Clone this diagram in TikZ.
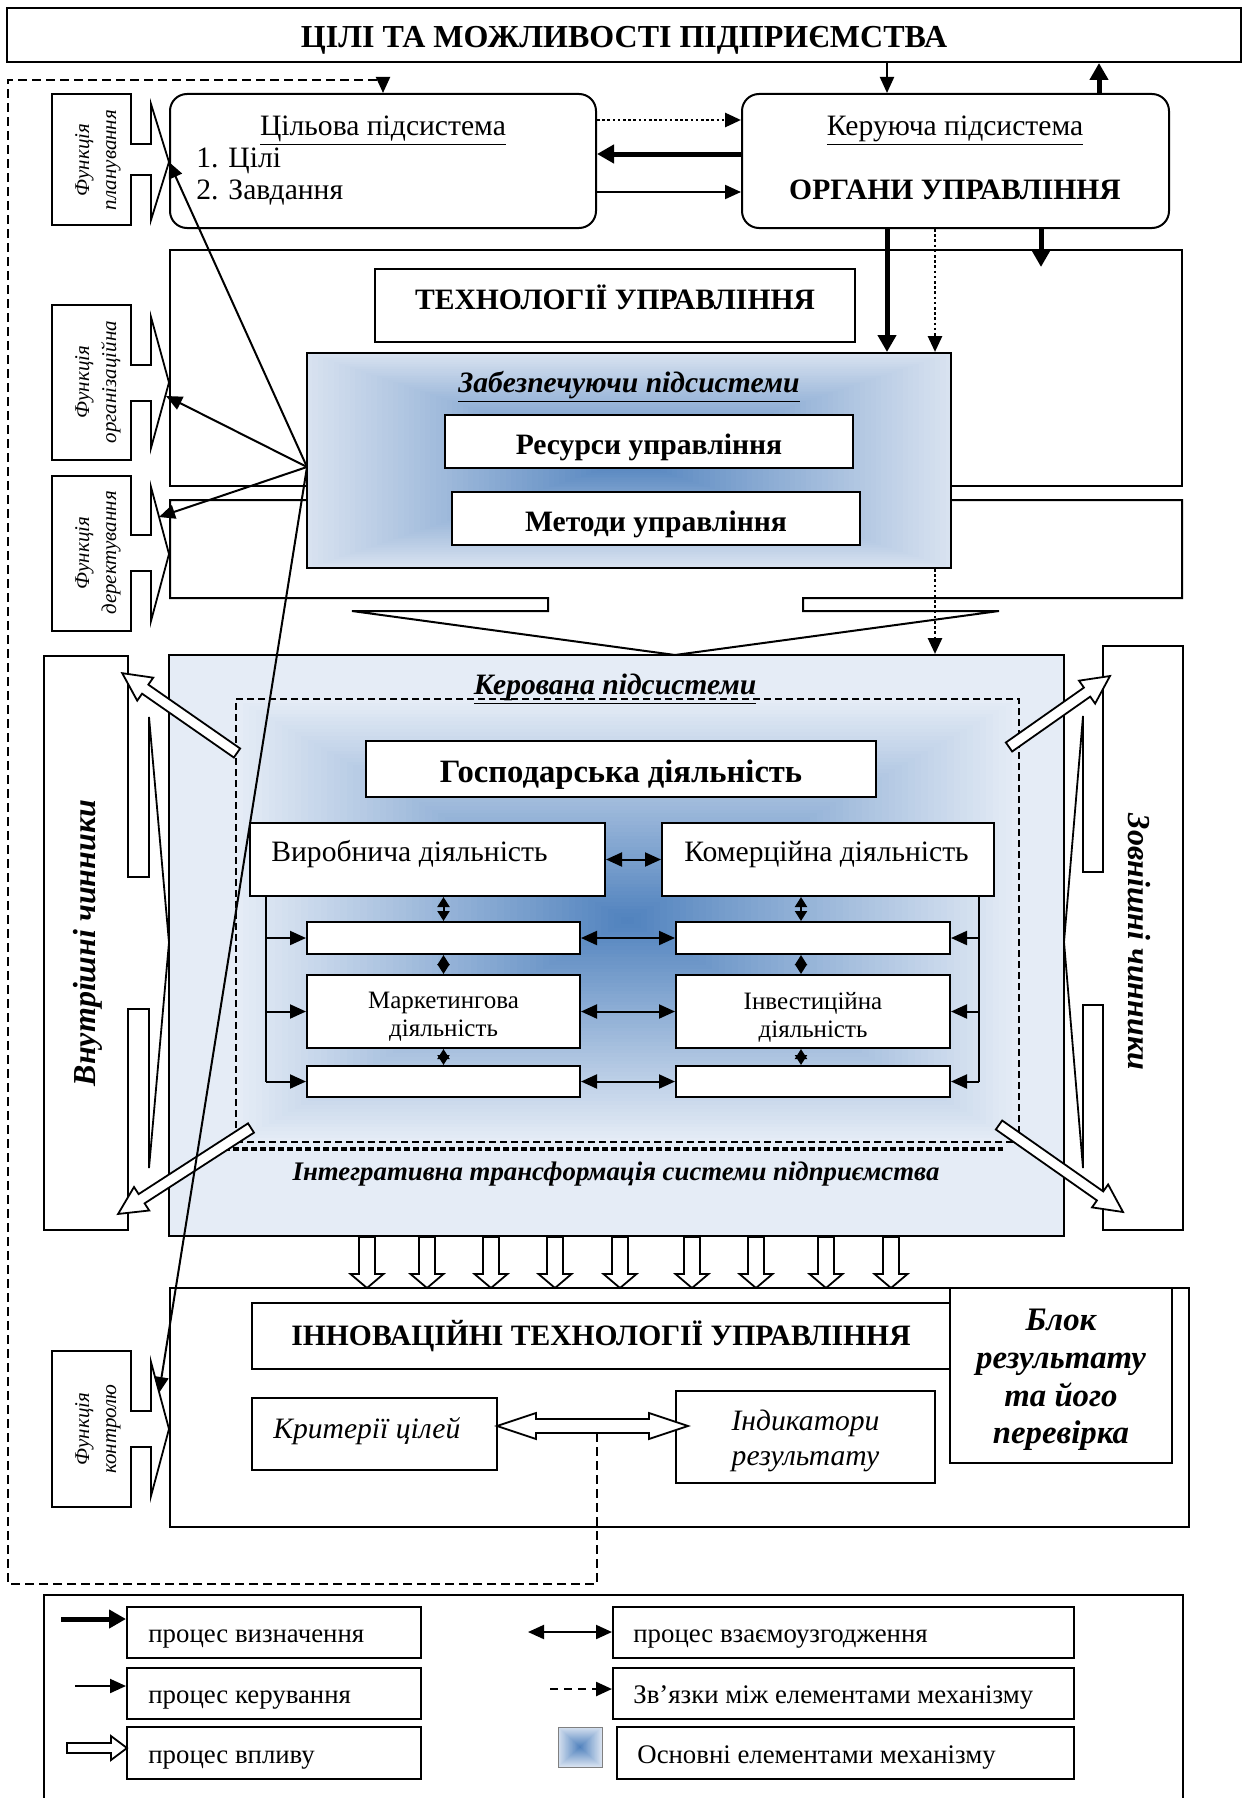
\documentclass[tikz,border=0pt]{standalone}
\usepackage{fontspec}
\setmainfont{Liberation Serif}
\usetikzlibrary{arrows.meta}

\definecolor{gradLight}{RGB}{216,226,240}
\definecolor{gradDark}{RGB}{79,129,189}
\definecolor{panelFill}{RGB}{229,236,246}

\newcommand{\fsz}[2]{\fontsize{#1}{#2}\selectfont}
\newcommand{\fmain}{\fsz{14.8pt}{17pt}}
\newcommand{\ftitle}{\fsz{16pt}{18pt}\bfseries}
\newcommand{\fsmall}{\fsz{12.5pt}{14pt}}
\newcommand{\ffunc}{\fsz{10.5pt}{13.5pt}\itshape}
\newcommand{\flegend}{\fsz{13.4pt}{15pt}}
\newcommand{\fside}{\fsz{16pt}{18pt}\bfseries\itshape}
\newcommand{\fblock}{\fsz{16.4pt}{18.8pt}\bfseries\itshape}

\tikzset{
  box/.style={draw,line width=1pt,fill=white,inner sep=0pt,align=center},
  txt/.style={inner sep=0pt,anchor=base},
  ltxt/.style={inner sep=0pt,anchor=base west},
  ctxt/.style={inner sep=0pt,align=center},
  callout/.style={draw,line width=0.9pt,fill=white},
  ln/.style={line width=1pt},
  ctl/.style={line width=1pt,-{Triangle[length=8pt,width=7pt]}},
  defn/.style={line width=2.5pt,-{Triangle[length=8.5pt,width=9pt]}},
  dots/.style={line width=1.4pt,dash pattern=on 1.3pt off 1.3pt,-{Triangle[length=8pt,width=7pt]}},
  dbl/.style={line width=1pt,{Triangle[length=8pt,width=7pt]}-{Triangle[length=8pt,width=7pt]}},
  mini/.style={line width=1pt,{Triangle[length=5pt,width=6pt]}-{Triangle[length=5pt,width=6pt]}},
  hollow/.style={draw,line width=0.9pt,fill=white,line join=miter},
  loopline/.style={line width=1pt,dash pattern=on 4.5pt off 2.5pt},
  innerdash/.style={line width=0.8pt,dash pattern=on 3.5pt off 2pt},
  bolddash/.style={line width=2pt,dash pattern=on 3pt off 1.5pt},
}

% rectangle node given by its corners (units: px of the layout grid)
\newcommand{\boxat}[7][]{%
  \node[box,#1,minimum width={(#5-#3)*0.5pt},minimum height={(#6-#4)*0.5pt}] (#2) at ({(#3+#5)/2},{(#4+#6)/2}) {#7};}

% "from centre" rectangular gradient made of nested rectangles
\newcommand{\rectgrad}[6]{%
  \foreach \gi in {0,...,60}{%
    \pgfmathsetmacro\gf{\gi/60}%
    \pgfmathsetmacro\gp{100*\gf}%
    \fill[#6!\gp!#5] ({#1+(#3-#1)*\gf/2},{#2+(#4-#2)*\gf/2}) rectangle ({#3-(#3-#1)*\gf/2},{#4-(#4-#2)*\gf/2});
  }}

% right-pointing arrow callout: body x1 y1 x2 y2, shaft top/bottom, head base x, head top/bottom
\newcommand{\rcall}[9]{%
  \draw[callout] (#1,#2) -- (#3,#2) -- (#3,#5) -- (#7,#5) -- (#7,#8) -- (169,{(#8+#9)/2}) -- (#7,#9) -- (#7,#6) -- (#3,#6) -- (#3,#4) -- (#1,#4) -- cycle;}

% hollow block arrow from #1 to #2: shaft half width, head half width, head length (px)
\newcommand{\blockarrow}[5]{%
  \path (#1); \pgfgetlastxy{\bax}{\bay}%
  \path (#2); \pgfgetlastxy{\bbx}{\bby}%
  \pgfmathsetmacro\bang{atan2(\bby-\bay,\bbx-\bax)}%
  \pgfmathsetmacro\blen{veclen(\bbx-\bax,\bby-\bay)}%
  \pgfmathsetmacro\bs{#3*0.5}%
  \pgfmathsetmacro\bh{#4*0.5}%
  \pgfmathsetmacro\bk{\blen-#5*0.5}%
  \draw[hollow,shift={(#1)},rotate=\bang] (0pt,-\bs pt) -- (\bk pt,-\bs pt) -- (\bk pt,-\bh pt) -- (\blen pt,0pt) -- (\bk pt,\bh pt) -- (\bk pt,\bs pt) -- (0pt,\bs pt) -- cycle;}

% hollow block arrow with heads at both ends
\newcommand{\blockdarrow}[5]{%
  \path (#1); \pgfgetlastxy{\bax}{\bay}%
  \path (#2); \pgfgetlastxy{\bbx}{\bby}%
  \pgfmathsetmacro\bang{atan2(\bby-\bay,\bbx-\bax)}%
  \pgfmathsetmacro\blen{veclen(\bbx-\bax,\bby-\bay)}%
  \pgfmathsetmacro\bs{#3*0.5}%
  \pgfmathsetmacro\bh{#4*0.5}%
  \pgfmathsetmacro\bk{#5*0.5}%
  \pgfmathsetmacro\bkk{\blen-#5*0.5}%
  \draw[hollow,shift={(#1)},rotate=\bang] (0pt,0pt) -- (\bk pt,\bh pt) -- (\bk pt,\bs pt) -- (\bkk pt,\bs pt) -- (\bkk pt,\bh pt) -- (\blen pt,0pt) -- (\bkk pt,-\bh pt) -- (\bkk pt,-\bs pt) -- (\bk pt,-\bs pt) -- (\bk pt,-\bh pt) -- cycle;}

\begin{document}
\begin{tikzpicture}[x=0.5pt,y=-0.5pt]
\useasboundingbox (0,0) rectangle (1248,1798);

% ---------------- goals and the two top subsystems ----------------
\boxat{goal}{7}{8}{1241}{62}{}
\node[txt,font=\ftitle] (goalT) at (624,48) {ЦІЛІ ТА МОЖЛИВОСТІ ПІДПРИЄМСТВА};

\boxat[rounded corners=8.5pt]{cil}{170}{94}{596}{228}{}
\node[txt,font=\fmain] (cilT) at (383,135) {\underline{Цільова підсистема}};
\node[ltxt,font=\fmain] (cil1) at (196,167) {1. Цілі};
\node[ltxt,font=\fmain] (cil2) at (196,199) {2. Завдання};

\boxat[rounded corners=8.5pt]{ker}{742}{94}{1169}{228}{}
\node[txt,font=\fmain] (kerT) at (955,135) {\underline{Керуюча підсистема}};
\node[txt,font=\fmain\bfseries] (kerO) at (955,199) {ОРГАНИ УПРАВЛІННЯ};

% ---------------- management technologies ----------------
\draw[callout,line width=1pt] (170,250) rectangle (1182,486);
\draw[callout,line width=1pt] (170,500) -- (1182,500) -- (1182,598) -- (803,598) -- (803,611) -- (999,611)
  -- (675,655) -- (352,611) -- (548,611) -- (548,598) -- (170,598) -- cycle;
\boxat{tech}{375}{269}{855}{342}{}
\node[txt,font=\fmain\bfseries] (techT) at (615,309) {ТЕХНОЛОГІЇ УПРАВЛІННЯ};

% supporting subsystems
\rectgrad{307}{353}{951}{568}{gradLight}{gradDark}
\boxat[fill=none]{zab}{307}{353}{951}{568}{}
\node[txt,font=\fmain\bfseries\itshape] (zabT) at (629,392) {\underline{Забезпечуючи підсистеми}};
\boxat{res}{445}{415}{853}{468}{}
\node[txt,font=\fmain\bfseries] (resT) at (649,454) {Ресурси управління};
\boxat{met}{452}{492}{860}{545}{}
\node[txt,font=\fmain\bfseries] (metT) at (656,531) {Методи управління};

% ---------------- managed subsystem ----------------
\boxat[fill=panelFill]{kerov}{169}{655}{1064}{1236}{}
\rectgrad{236}{699}{1019}{1142}{panelFill}{gradDark}
\boxat[fill=none,innerdash]{integ}{236}{699}{1019}{1142}{}
\coordinate (bdA) at (224,1149);
\coordinate (bdB) at (1003,1149);
\draw[bolddash] (bdA) -- (bdB);
\node[txt,font=\fmain\bfseries\itshape] (kerovT) at (615,694) {\underline{Керована підсистеми}};
\node[txt,font=\fsz{13.4pt}{15pt}\bfseries\itshape] (integT) at (616,1180) {Інтегративна трансформація системи підприємства};

\boxat{gosp}{366}{741}{876}{797}{}
\node[txt,font=\fsz{16.3pt}{18pt}\bfseries] (gospT) at (621,782) {Господарська діяльність};
\boxat{vyr}{250}{823}{605}{896}{}
\node[ltxt,font=\fmain] (vyrT) at (271,861) {Виробнича діяльність};
\boxat{kom}{662}{823}{994}{896}{}
\node[ltxt,font=\fmain] (komT) at (684,861) {Комерційна діяльність};

\boxat{l1}{307}{922}{580}{954}{}
\boxat{mark}{307}{975}{580}{1048}{}
\node[ctxt,font=\fsmall] (markT) at (443.5,1017) {Маркетингова\\діяльність};
\boxat{l3}{307}{1066}{580}{1097}{}
\boxat{r1}{676}{922}{950}{954}{}
\boxat{inv}{676}{975}{950}{1048}{}
\node[ctxt,font=\fsmall] (invT) at (813,1017) {Інвестиційна\\діяльність};
\boxat{r3}{676}{1066}{950}{1097}{}

\draw[dbl] (vyr.east) -- (kom.west);
\draw[dbl] (l1.east) -- (r1.west);
\draw[dbl] (mark.east) -- (inv.west);
\draw[dbl] (l3.east) -- (r3.west);

\draw[mini] (vyr.south -| l1.north) -- (l1.north);
\draw[mini] (l1.south) -- (mark.north);
\draw[mini] (mark.south) -- (l3.north);
\coordinate (rx) at (801,0);
\draw[mini] (kom.south -| rx) -- (r1.north -| rx);
\draw[mini] (r1.south -| rx) -- (inv.north -| rx);
\draw[mini] (inv.south -| rx) -- (r3.north -| rx);

\coordinate (lbx) at (266,0);
\draw[ln] (vyr.south -| lbx) -- (l3.west -| lbx);
\draw[ctl] (l1.west -| lbx) -- (l1.west);
\draw[ctl] (mark.west -| lbx) -- (mark.west);
\draw[ctl] (l3.west -| lbx) -- (l3.west);
\coordinate (rbx) at (979,0);
\draw[ln] (kom.south -| rbx) -- (r3.east -| rbx);
\draw[ctl] (r1.east -| rbx) -- (r1.east);
\draw[ctl] (inv.east -| rbx) -- (inv.east);
\draw[ctl] (r3.east -| rbx) -- (r3.east);

% ---------------- internal and external factors ----------------
\rcall{44}{656}{128}{1230}{877}{1009}{149}{717}{1168}
\node[rotate=90,font=\fside,inner sep=0pt] (inner) at (88,943) {Внутрішні чинники};
\draw[callout] (1183,646) -- (1103,646) -- (1103,872) -- (1083,872) -- (1083,716) -- (1064,942)
  -- (1083,1168) -- (1083,1005) -- (1103,1005) -- (1103,1230) -- (1183,1230) -- cycle;
\node[rotate=-90,font=\fside,inner sep=0pt] (outer) at (1139,942) {Зовнішні чинники};

\coordinate (ulA) at (237,753);  \coordinate (ulB) at (122,673);
\coordinate (llA) at (251,1128); \coordinate (llB) at (118,1214);
\coordinate (urA) at (1009,747); \coordinate (urB) at (1110,676);
\coordinate (lrA) at (999,1125); \coordinate (lrB) at (1123,1212);
\blockarrow{ulA}{ulB}{5.5}{14}{28}
\blockarrow{llA}{llB}{5.5}{14}{28}
\blockarrow{urA}{urB}{5.5}{14}{28}
\blockarrow{lrA}{lrB}{5.5}{14}{28}

% ---------------- innovation technologies ----------------
\boxat{innov}{170}{1288}{1189}{1527}{}
\foreach \dx in {367,427,491,555,620,692,756,826,891}{
  \coordinate (dA) at (\dx,1237);
  \coordinate (dB) at (\dx,1288);
  \blockarrow{dA}{dB}{8}{16.5}{14}
}
\boxat[font=\fmain\bfseries]{innT}{252}{1303}{950}{1369}{ІННОВАЦІЙНІ ТЕХНОЛОГІЇ УПРАВЛІННЯ}
\boxat{blok}{950}{1288}{1172}{1463}{}
\node[ctxt,font=\fblock] (blokT) at (1061,1380) {Блок\\результату\\та його\\перевірка};
\boxat{krit}{252}{1398}{497}{1470}{}
\node[ltxt,font=\fmain\itshape] (kritT) at (273,1438) {Критерії цілей};
\boxat{ind}{676}{1391}{935}{1483}{}
\node[ctxt,font=\fsz{14.8pt}{17.5pt}\itshape] (indT) at (805.5,1441) {Індикатори\\результату};
\coordinate (kiA) at (497,1426);
\coordinate (kiB) at (688,1426);
\blockdarrow{kiA}{kiB}{7}{13}{39}

% ---------------- function callouts ----------------
\rcall{52}{94}{131}{225}{144}{175}{151}{104}{220}
\node[rotate=90,font=\ffunc,align=center,inner sep=0pt] (fPlanT) at (98,160) {Функція\\планування};
\rcall{52}{305}{131}{460}{365}{401}{151}{317}{448}
\node[rotate=90,font=\ffunc,align=center,inner sep=0pt] (fOrgT) at (98,382) {Функція\\організаційна};
\rcall{52}{476}{131}{631}{535}{571}{151}{487}{621}
\node[rotate=90,font=\ffunc,align=center,inner sep=0pt] (fDirT) at (98,553) {Функція\\деректування};
\rcall{52}{1351}{131}{1507}{1411}{1447}{151}{1362}{1496}
\node[rotate=90,font=\ffunc,align=center,inner sep=0pt] (fCtlT) at (98,1429) {Функція\\контролю};

% ---------------- links between the top subsystems ----------------
\coordinate (x887) at (887,0);
\coordinate (x935) at (935,0);
\coordinate (x1041) at (1041,0);
\coordinate (x1099) at (1099,0);
\coordinate (y120) at (0,120);
\coordinate (y154) at (0,154);
\coordinate (y192) at (0,192);
\draw[ctl] (goal.south -| x887) -- (ker.north -| x887);
\draw[defn] (ker.north -| x1099) -- (goal.south -| x1099);
\draw[dots] (cil.east |- y120) -- (ker.west |- y120);
\draw[defn] (ker.west |- y154) -- (cil.east |- y154);
\draw[ctl] (cil.east |- y192) -- (ker.west |- y192);
\draw[defn] (ker.south -| x887) -- (zab.north -| x887);
\draw[dots] (ker.south -| x935) -- (zab.north -| x935);
\draw[dots] (zab.south -| x935) -- (kerov.north -| x935);
\coordinate (techIn) at (1041,267);
\draw[defn] (ker.south -| x1041) -- (techIn);

% ---------------- feedback loop ----------------
\coordinate (loopStart) at (597,1433);
\coordinate (lx) at (383,0);
\draw[loopline,-{Triangle[length=8pt,width=7pt]}] (loopStart) -- (597,1584) -- (8,1584) -- (8,80) -- (383,80) -- (cil.north -| lx);

% ---------------- management functions ----------------
\coordinate (P) at (307,467);
\coordinate (fPlan) at (169,162);
\coordinate (fOrg) at (166,396);
\coordinate (fDir) at (159,517);
\coordinate (fCtl) at (159,1393);
\draw[ctl] (P) -- (fPlan);
\draw[ctl] (P) -- (fOrg);
\draw[ctl] (P) -- (fDir);
\draw[ctl] (P) -- (fCtl);

% ---------------- legend ----------------
\draw[ln] (44,1805) -- (44,1595) -- (1183,1595) -- (1183,1805);
\boxat{lg1}{127}{1607}{421}{1658}{}
\node[ltxt,font=\flegend] (lg1T) at (148,1642) {процес визначення};
\boxat{lg2}{127}{1668}{421}{1719}{}
\node[ltxt,font=\flegend] (lg2T) at (148,1703) {процес керування};
\boxat{lg3}{127}{1727}{421}{1779}{}
\node[ltxt,font=\flegend] (lg3T) at (148,1763) {процес впливу};
\boxat{lg4}{613}{1607}{1074}{1658}{}
\node[ltxt,font=\flegend] (lg4T) at (633,1642) {процес взаємоузгодження};
\boxat{lg5}{613}{1668}{1074}{1719}{}
\node[ltxt,font=\flegend] (lg5T) at (633,1703) {Зв’язки між елементами механізму};
\boxat{lg6}{617}{1727}{1074}{1779}{}
\node[ltxt,font=\flegend] (lg6T) at (637,1763) {Основні елементами механізму};

\coordinate (lgA1) at (61,1619);
\draw[defn] (lgA1) -- (lg1.west |- lgA1);
\coordinate (lgA2) at (75,1686);
\draw[ctl] (lgA2) -- (lg2.west |- lgA2);
\coordinate (lgA3) at (67,1748);
\coordinate (lgB3) at (127,1748);
\blockarrow{lgA3}{lgB3}{5}{12}{16}
\coordinate (lgA4) at (528,1632);
\draw[dbl] (lgA4) -- (lg4.west |- lgA4);
\coordinate (lgA5) at (550,1689);
\draw[line width=1.2pt,dash pattern=on 4pt off 3pt,-{Triangle[length=8pt,width=7pt]}] (lgA5) -- (lg5.west |- lgA5);
\rectgrad{558}{1727}{602}{1767}{gradLight}{gradDark}
\draw[line width=0.5pt,gray] (558,1727) rectangle (602,1767);

\end{tikzpicture}
\end{document}
